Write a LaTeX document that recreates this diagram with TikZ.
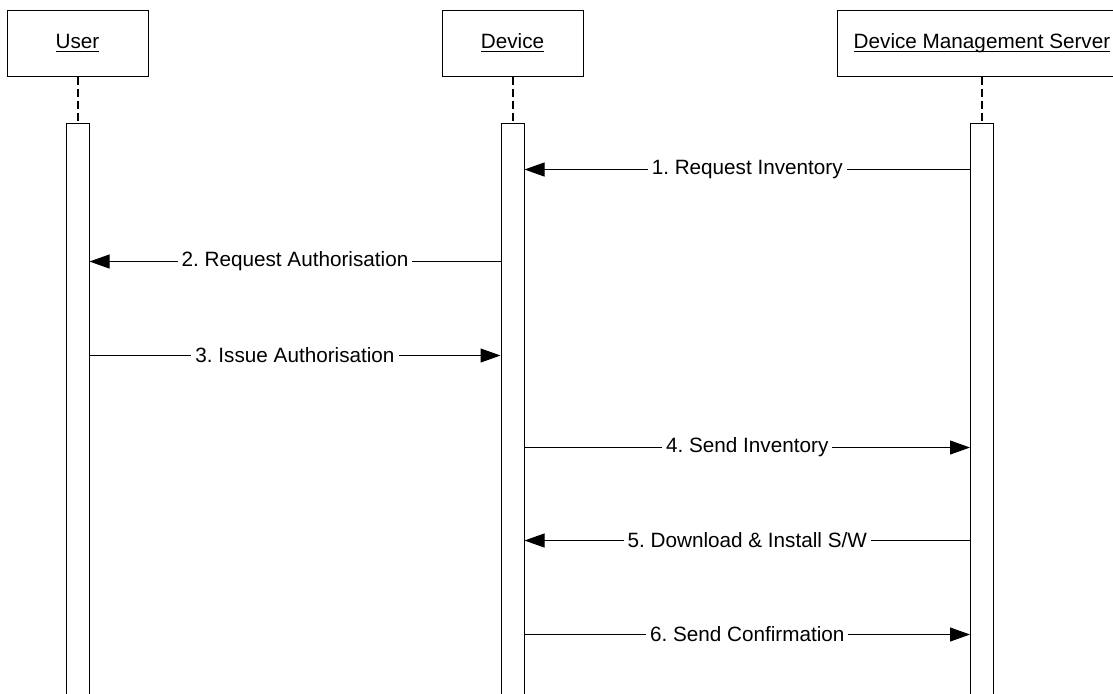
\documentclass[tikz,border=0pt]{standalone}
\usepackage{fontspec}
\setmainfont{Liberation Sans}
\usetikzlibrary{positioning,arrows.meta}

\newcommand{\ulname}[1]{\underline{\smash{#1}}\vphantom{X}}

\begin{document}
\frenchspacing
\begin{tikzpicture}[
font=\fontsize{10.35}{12.4}\selectfont,
actor/.style={rectangle, draw=black, line width=0.5pt, minimum width=70.5pt, minimum height=33pt, inner xsep=8pt},
lifebar/.style={rectangle, draw=black, line width=0.5pt, fill=white, minimum width=11.5pt, minimum height=300pt},
lifeline/.style={line width=1pt, dash pattern=on 4pt off 2pt},
msg/.style={line width=0.5pt, -{Triangle[length=10pt,width=7pt]}},
msglabel/.style={fill=white, inner xsep=2pt, inner ysep=1pt}
]
\useasboundingbox (0,0) rectangle (556.5pt,-346.5pt);
\clip (0,0) rectangle (556.5pt,-346.5pt);

\node[actor] (user) at (38.75pt,-21.5pt) {\ulname{User}};
\node[actor] (dev) [right=146.5pt of user] {\ulname{Device}};
\node[actor] (dms) at (491pt,-21.5pt) {\ulname{Device Management Server}};

\node[lifebar] (user_bar) [below=23pt of user] {};
\node[lifebar] (dev_bar) [below=23pt of dev] {};
\node[lifebar] (dms_bar) [below=23pt of dms] {};

%Lifelines
\draw[lifeline] (user.south) -- (user_bar.north);
\draw[lifeline] (dev.south) -- (dev_bar.north);
\draw[lifeline] (dms.south) -- (dms_bar.north);

%Messages
\draw[msg] ([yshift=-23.5pt]dms_bar.north west) -- node[msglabel] {1. Request Inventory} ([yshift=-23.5pt]dev_bar.north east);
\draw[msg] ([yshift=-69.5pt]dev_bar.north west) -- node[msglabel] {2. Request Authorisation} ([yshift=-69.5pt]user_bar.north east);
\draw[msg] ([yshift=-116.5pt]user_bar.north east) -- node[msglabel] {3. Issue Authorisation} ([yshift=-116.5pt]dev_bar.north west);
\draw[msg] ([yshift=-162.5pt]dev_bar.north east) -- node[msglabel] {4. Send Inventory} ([yshift=-162.5pt]dms_bar.north west);
\draw[msg] ([yshift=-209pt]dms_bar.north west) -- node[msglabel] {5. Download \& Install S/W} ([yshift=-209pt]dev_bar.north east);
\draw[msg] ([yshift=-256pt]dev_bar.north east) -- node[msglabel] {6. Send Confirmation} ([yshift=-256pt]dms_bar.north west);
\end{tikzpicture}
\end{document}
